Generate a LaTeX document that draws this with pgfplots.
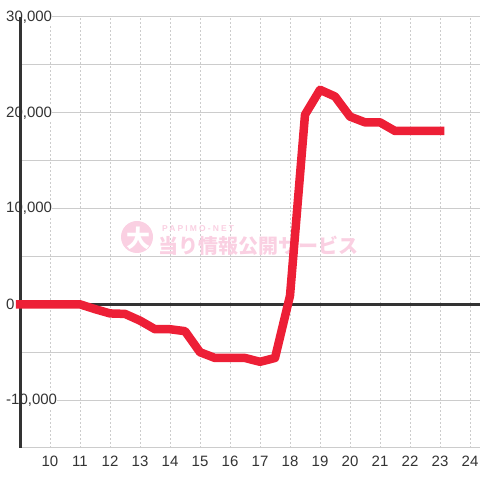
\documentclass[border=0pt]{standalone}
\usepackage{pgfplots}
\pgfplotsset{compat=1.18}
\usepackage{fontspec}
\setmainfont{Liberation Sans}
\newfontfamily\cjk{Noto Sans CJK JP}
\definecolor{lineRed}{HTML}{ED1F36}
\definecolor{gridGray}{HTML}{CCCCCC}
\definecolor{axisDark}{HTML}{333333}
\definecolor{wmPink}{HTML}{FAD0E2}

\begin{document}
\begin{tikzpicture}

% watermark
\fill[wmPink] (137bp,243bp) circle (16bp);
\node[text=white, font=\cjk\bfseries\fontsize{24bp}{24bp}\selectfont] at (138bp,242bp) {大};
\node[anchor=west, text=wmPink, inner sep=0pt,
      font=\cjk\bfseries\fontsize{20bp}{20bp}\selectfont] at (158bp,234bp) {当り情報公開サービス};
\node[anchor=west, text=wmPink, inner sep=0pt,
      font=\bfseries\fontsize{8.5bp}{9bp}\selectfont\addfontfeature{LetterSpace=25}] at (162bp,251bp) {PAPIMO-NET};

\begin{axis}[
    set layers=standard,
    at={(20bp,32bp)}, anchor=south west,
    scale only axis,
    width=460bp, height=431bp,
    xmin=9, xmax=24.333,
    ymin=-15000, ymax=30000,
    clip=false,
    axis line style={draw=none},
    major tick length=0pt,
    xtick={10,...,24},
    xticklabels={10,11,12,13,14,15,16,17,18,19,20,21,22,23,24},
    ytick={-15000,-10000,...,30000},
    yticklabels={{},{-10,000},{},{0},{},{10,000},{},{20,000},{},{30,000}},
    scaled y ticks=false,
    xmajorgrids, ymajorgrids,
    x grid style={gridGray, dash pattern=on 2bp off 2bp, line width=0.8bp},
    y grid style={gridGray, line width=1bp},
    ticklabel style={font=\fontsize{15bp}{17bp}\selectfont, text=axisDark},
    xticklabel style={anchor=north, inner sep=0pt, yshift=-8bp},
    yticklabel style={anchor=west, inner xsep=0pt, inner ysep=2.5bp, fill=white, xshift=-14bp},
]

% axis line and zero line
\draw[axisDark, line width=3bp] (axis cs:9,-15000) -- (axis cs:9,30000);
\draw[axisDark, line width=3bp] (axis cs:9,0) -- (axis cs:24.333,0);

\addplot[lineRed, line width=8.5bp, line join=round, line cap=rect, mark=none] coordinates {
    (9,0)
    (9.5,0)
    (10,0)
    (10.5,0)
    (11,0)
    (11.5,-500)
    (12,-950)
    (12.5,-1000)
    (13,-1700)
    (13.5,-2600)
    (14,-2600)
    (14.5,-2800)
    (15,-5000)
    (15.5,-5600)
    (16,-5600)
    (16.5,-5600)
    (17,-6000)
    (17.5,-5600)
    (18,900)
    (18.5,19800)
    (19,22400)
    (19.5,21700)
    (20,19600)
    (20.5,19000)
    (21,19000)
    (21.5,18100)
    (22,18100)
    (22.5,18100)
    (23,18100)
};

\end{axis}
\pgfresetboundingbox
\useasboundingbox (0,0) rectangle (480bp,480bp);
\end{tikzpicture}
\end{document}
